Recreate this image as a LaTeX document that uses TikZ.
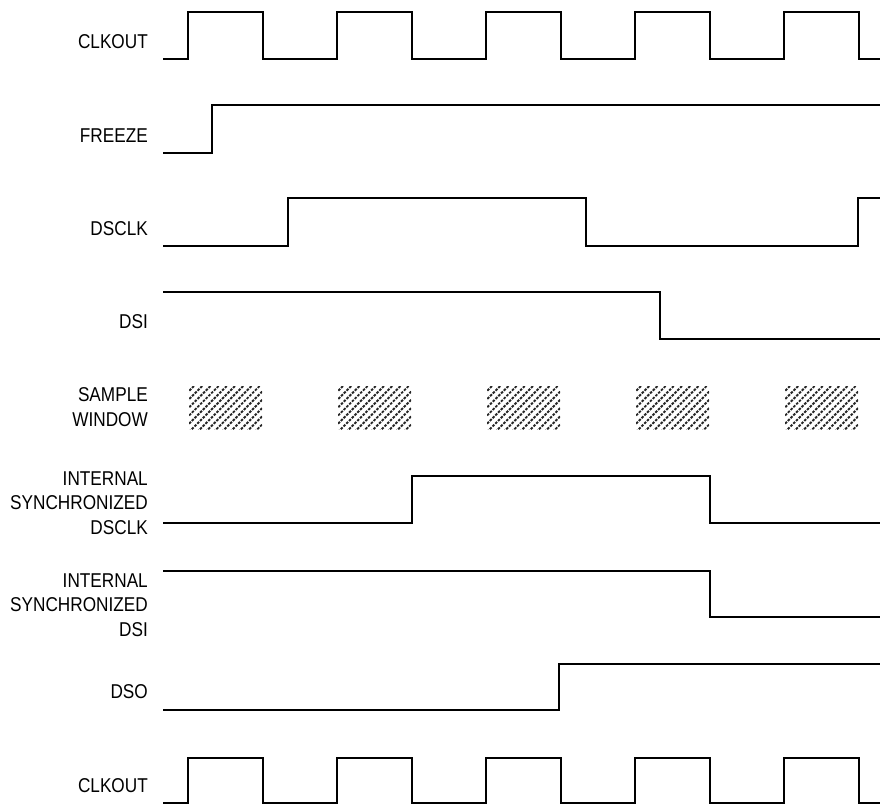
\documentclass[tikz,border=0pt]{standalone}
\usepackage{fontspec}
\setmainfont[FakeStretch=0.86]{Liberation Sans}
\begin{document}
\begin{tikzpicture}[x=1pt,y=-1pt,
  wave/.style={line width=2.4pt, line join=miter},
  lbl/.style={anchor=east, align=right, inner sep=0pt, font=\fontsize{20}{24.5}\selectfont},
  hatchline/.style={line width=1.9pt, black!85, dash pattern=on 2.6pt off 1.3pt}]
\useasboundingbox (0,0) rectangle (880,806);
% labels
\node[lbl] (l1) at (148,42) {CLKOUT};
\node[lbl] (l2) at (148,136) {FREEZE};
\node[lbl] (l3) at (148,229) {DSCLK};
\node[lbl] (l4) at (148,322) {DSI};
\node[lbl] (l5) at (148,407) {SAMPLE\\WINDOW};
\node[lbl] (l6) at (148,503) {INTERNAL\\SYNCHRONIZED\\DSCLK};
\node[lbl] (l7) at (148,605) {INTERNAL\\SYNCHRONIZED\\DSI};
\node[lbl] (l8) at (148,692) {DSO};
\node[lbl] (l9) at (148,786) {CLKOUT};
% CLKOUT top
\draw[wave] (163,59) -- (188,59) -- (188,12) -- (263,12) -- (263,59) -- (337,59) -- (337,12) -- (412,12) -- (412,59)
  -- (486,59) -- (486,12) -- (561,12) -- (561,59) -- (635,59) -- (635,12) -- (710,12) -- (710,59)
  -- (784,59) -- (784,12) -- (859,12) -- (859,59) -- (880,59);
% FREEZE
\draw[wave] (163,153) -- (212,153) -- (212,105) -- (880,105);
% DSCLK
\draw[wave] (163,246) -- (288,246) -- (288,198) -- (586,198) -- (586,246) -- (858,246) -- (858,198) -- (880,198);
% DSI
\draw[wave] (163,292) -- (660,292) -- (660,339) -- (880,339);
% sample windows
\foreach \xa in {189,338,487,636,785}{
  \begin{scope}
    \clip (\xa,386) rectangle ++(73,43);
    \foreach \k in {-6,...,10}{
      \draw[hatchline] (\xa+\k*8.2,432) -- ++(48,-48);
    }
  \end{scope}
}
% internal synchronized DSCLK
\draw[wave] (163,523) -- (412,523) -- (412,476) -- (710,476) -- (710,523) -- (880,523);
% internal synchronized DSI
\draw[wave] (163,571) -- (710,571) -- (710,617) -- (880,617);
% DSO
\draw[wave] (163,710) -- (559,710) -- (559,664) -- (880,664);
% CLKOUT bottom
\draw[wave] (163,803) -- (188,803) -- (188,758) -- (263,758) -- (263,803) -- (337,803) -- (337,758) -- (412,758) -- (412,803)
  -- (486,803) -- (486,758) -- (561,758) -- (561,803) -- (635,803) -- (635,758) -- (710,758) -- (710,803)
  -- (784,803) -- (784,758) -- (859,758) -- (859,803) -- (880,803);
\end{tikzpicture}
\end{document}
